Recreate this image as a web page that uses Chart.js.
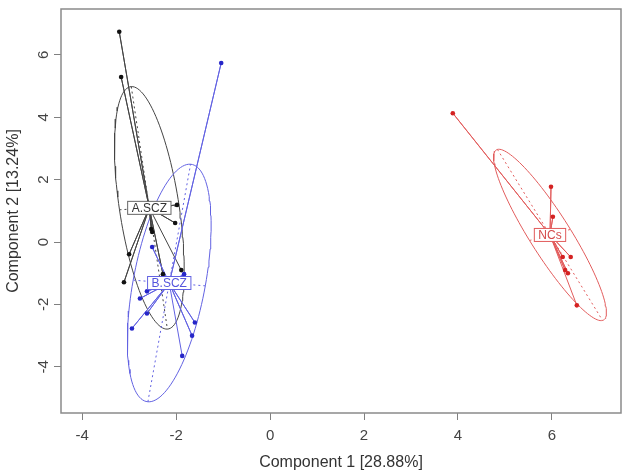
<!DOCTYPE html>
<html>
<head>
<meta charset="utf-8">
<script src="https://cdn.jsdelivr.net/npm/chart.js@4.4.0/dist/chart.umd.min.js"></script>
<style>
  html, body { margin: 0; padding: 0; background: #fff; }
  #wrap { width: 630px; height: 475px; }
</style>
</head>
<body>
<div id="wrap"><canvas id="c"></canvas></div>
<script>
// group scores (component 1, component 2)
const groupNames = ['A.SCZ', 'B.SCZ', 'NCs'];
const groupAX = [-3.21, -3.17, -1.98, -2.02, -2.53, -2.51, -3.00, -3.11, -2.28, -1.89];
const groupAY = [6.74, 5.29, 1.19, 0.61, 0.42, 0.32, -0.39, -1.29, -1.03, -0.90];
const groupBX = [-1.04, -2.51, -1.83, -2.62, -2.77, -2.62, -2.94, -1.60, -1.66, -1.87];
const groupBY = [5.74, -0.16, -1.03, -1.58, -1.81, -2.29, -2.77, -2.58, -3.00, -3.65];
const groupNX = [3.89, 5.98, 6.02, 6.23, 6.40, 6.34, 6.28, 6.53];
const groupNY = [4.13, 1.77, 0.81, -0.48, -0.48, -1.00, -0.90, -2.03];
const xTicks = [-4, -2, 0, 2, 4, 6];
const yTicks = [-4, -2, 0, 2, 4, 6];

const FONT = 'Liberation Sans';
const lineCols = ['#444444', '#6262e2', '#e25c5c'];
const dotCols  = ['#111111', '#2626c8', '#d42222'];
const textCols = ['#333333', '#5555dd', '#d44a4a'];
const CELL = 1.5; // ellipse size, as in s.class

// mean, covariance and ellipse axes for one group
function groupStats(xs, ys) {
  const n = xs.length;
  const mx = xs.reduce((a, b) => a + b, 0) / n;
  const my = ys.reduce((a, b) => a + b, 0) / n;
  let vx = 0, vy = 0, cxy = 0;
  for (let i = 0; i < n; i++) {
    vx += (xs[i] - mx) ** 2;
    vy += (ys[i] - my) ** 2;
    cxy += (xs[i] - mx) * (ys[i] - my);
  }
  vx /= n; vy /= n; cxy /= n;
  const tr = vx + vy, det = vx * vy - cxy * cxy;
  const disc = Math.sqrt(Math.max(tr * tr / 4 - det, 0));
  const l1 = tr / 2 + disc, l2 = Math.max(tr / 2 - disc, 0);
  let ux = l1 - vy, uy = cxy;
  const nrm = Math.hypot(ux, uy);
  if (nrm < 1e-9) { ux = 1; uy = 0; } else { ux /= nrm; uy /= nrm; }
  return { mx, my, ux, uy, a: CELL * Math.sqrt(l1), b: CELL * Math.sqrt(l2) };
}

const groups = [[groupAX, groupAY], [groupBX, groupBY], [groupNX, groupNY]];
const stats = groups.map(([xs, ys]) => groupStats(xs, ys));

const datasets = [];
groups.forEach(([xs, ys], g) => {
  const s = stats[g];
  const ell = [];
  for (let k = 0; k <= 120; k++) {
    const t = (k / 120) * 2 * Math.PI;
    const ca = s.a * Math.cos(t), sb = s.b * Math.sin(t);
    ell.push({ x: s.mx + ca * s.ux - sb * s.uy, y: s.my + ca * s.uy + sb * s.ux });
  }
  const major = [
    { x: s.mx - s.a * s.ux, y: s.my - s.a * s.uy },
    { x: s.mx + s.a * s.ux, y: s.my + s.a * s.uy }
  ];
  const minor = [
    { x: s.mx + s.b * s.uy, y: s.my - s.b * s.ux },
    { x: s.mx - s.b * s.uy, y: s.my + s.b * s.ux }
  ];
  const spokes = [];
  xs.forEach((x, i) => {
    spokes.push({ x: s.mx, y: s.my });
    spokes.push({ x, y: ys[i] });
  });
  const pts = xs.map((x, i) => ({ x, y: ys[i] }));

  const line = { showLine: true, pointRadius: 0, borderWidth: 1, tension: 0, fill: false };
  datasets.push({ ...line, label: groupNames[g] + ' ellipse', data: ell, borderColor: lineCols[g], order: 50 - g });
  datasets.push({ ...line, label: groupNames[g] + ' major', data: major, borderColor: lineCols[g], borderDash: [2, 3], order: 40 - g });
  datasets.push({ ...line, label: groupNames[g] + ' minor', data: minor, borderColor: lineCols[g], borderDash: [2, 3], order: 40 - g });
  datasets.push({ ...line, label: groupNames[g] + ' star', data: spokes, borderColor: lineCols[g], order: 30 - g });
  datasets.push({ label: groupNames[g], data: pts, pointRadius: 2.3, pointBorderWidth: 0,
    pointBackgroundColor: dotCols[g], backgroundColor: dotCols[g], order: 20 - g });
});

const frame = {
  id: 'frame',
  afterDraw(chart) {
    const { ctx, chartArea: a } = chart;
    ctx.save();
    ctx.strokeStyle = '#8a8a8a';
    ctx.lineWidth = 1.5;
    ctx.strokeRect(a.left, a.top, a.right - a.left, a.bottom - a.top);
    ctx.restore();
  }
};

const groupLabels = {
  id: 'groupLabels',
  afterDatasetsDraw(chart) {
    const { ctx, scales: { x, y } } = chart;
    ctx.save();
    ctx.font = '12px "' + FONT + '"';
    ctx.textAlign = 'center';
    ctx.textBaseline = 'middle';
    stats.forEach((s, g) => {
      const px = x.getPixelForValue(s.mx), py = y.getPixelForValue(s.my);
      const w = ctx.measureText(groupNames[g]).width + 8, h = 13;
      ctx.fillStyle = '#fff';
      ctx.fillRect(px - w / 2, py - h / 2, w, h);
      ctx.strokeStyle = g === 0 ? '#666' : lineCols[g];
      ctx.lineWidth = 1;
      ctx.strokeRect(px - w / 2, py - h / 2, w, h);
      ctx.fillStyle = textCols[g];
      ctx.fillText(groupNames[g], px, py + 0.5);
    });
    ctx.restore();
  }
};

new Chart(document.getElementById('c'), {
  type: 'scatter',
  data: { datasets },
  plugins: [frame, groupLabels],
  options: {
    responsive: true,
    maintainAspectRatio: false,
    animation: false,
    layout: { padding: { top: 9, right: 9, left: 0, bottom: 0 } },
    plugins: { legend: { display: false }, tooltip: { enabled: false } },
    scales: {
      x: {
        type: 'linear',
        min: -4.45,
        max: 7.47,
        afterBuildTicks: s => { s.ticks = xTicks.map(v => ({ value: v })); },
        afterFit: s => { s.height = 62; s.paddingLeft = 0; s.paddingRight = 0; },
        grid: { drawOnChartArea: false, drawTicks: true, tickLength: 7, color: '#808080' },
        border: { display: false },
        ticks: { font: { family: FONT, size: 15 }, color: '#444', padding: 7, maxRotation: 0, autoSkip: false },
        title: { display: true, text: 'Component 1 [28.88%]', font: { family: FONT, size: 16 }, color: '#333', padding: { top: 0, bottom: 3 } }
      },
      y: {
        type: 'linear',
        min: -5.48,
        max: 7.47,
        afterBuildTicks: s => { s.ticks = yTicks.map(v => ({ value: v })); },
        afterFit: s => { s.width = 61; s.paddingTop = 0; s.paddingBottom = 0; },
        grid: { drawOnChartArea: false, drawTicks: true, tickLength: 7, color: '#808080' },
        border: { display: false },
        ticks: { font: { family: FONT, size: 15 }, color: '#444', padding: 3, minRotation: 90, maxRotation: 90,
          crossAlign: 'center', autoSkip: false },
        title: { display: true, text: 'Component 2 [13.24%]', font: { family: FONT, size: 16 }, color: '#333', padding: { top: 4, bottom: 0 } }
      }
    }
  }
});
</script>
</body>
</html>
